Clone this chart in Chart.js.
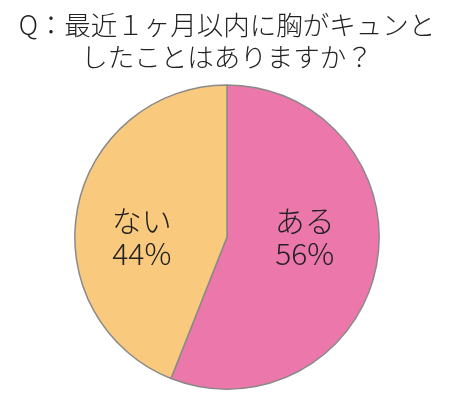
<!DOCTYPE html>
<html><head><meta charset="utf-8">
<script src="https://cdn.jsdelivr.net/npm/chart.js@4"></script>
<style>html,body{margin:0;padding:0;background:#fff;}#wrap{width:450px;height:398px;}</style>
</head><body><div id="wrap"><canvas id="c" width="450" height="398"></canvas></div>
<script>
const titleLines = ["Q：最近１ヶ月以内に胸がキュンと", "したことはありますか？"];
const categories = ["ある", "ない"];
const values = [56, 44];
const colors = ["#EC77AB", "#F9C97D"];

const FONT = "'Noto Sans CJK JP', 'Noto Sans', sans-serif";

const labelPlugin = {
  id: 'sliceLabels',
  afterDatasetsDraw(chart) {
    const ctx = chart.ctx;
    const meta = chart.getDatasetMeta(0);
    const total = values.reduce((a, b) => a + b, 0);
    const factors = [0.52, 0.57];
    meta.data.forEach((arc, i) => {
      const p = arc.getProps(['x', 'y', 'startAngle', 'endAngle', 'outerRadius'], true);
      const mid = (p.startAngle + p.endAngle) / 2;
      const x = p.x + Math.cos(mid) * p.outerRadius * factors[i];
      const y = p.y;
      ctx.save();
      ctx.fillStyle = '#222';
      ctx.textAlign = 'center';
      ctx.textBaseline = 'middle';
      ctx.font = "300 30px " + FONT;
      ctx.fillText(categories[i], x, y - 16);
      ctx.fillText(Math.round(values[i] / total * 100) + '%', x, y + 17);
      ctx.restore();
    });
  }
};

new Chart(document.getElementById('c'), {
  type: 'pie',
  data: {
    labels: categories,
    datasets: [{
      data: values,
      backgroundColor: colors,
      borderColor: '#8a8a8a',
      borderWidth: 1.5
    }]
  },
  options: {
    responsive: false,
    animation: false,
    layout: { padding: { left: 4, right: 0, top: 0, bottom: 8 } },
    plugins: {
      legend: { display: false },
      tooltip: { enabled: false },
      title: {
        display: true,
        text: titleLines,
        color: '#222',
        font: { family: FONT, size: 26.5, weight: '300', lineHeight: 1.21 },
        padding: { top: 9, bottom: 11 }
      }
    }
  },
  plugins: [labelPlugin]
});
</script>
</body></html>
